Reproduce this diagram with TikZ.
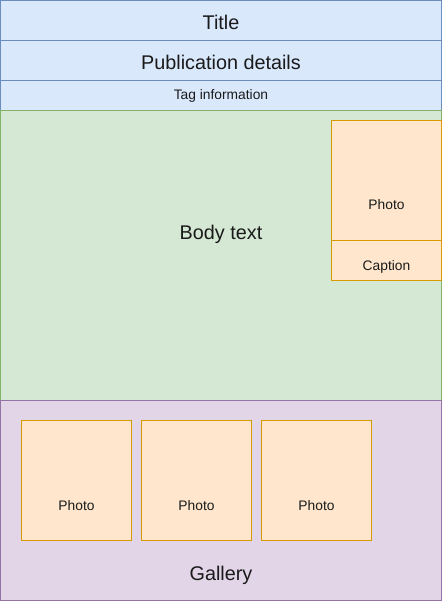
\documentclass[tikz,border=0pt]{standalone}
\usepackage{fontspec}
\setmainfont{Liberation Sans}
\definecolor{bfill}{HTML}{DAE8FC}\definecolor{bline}{HTML}{6C8EBF}
\definecolor{gfill}{HTML}{D5E8D4}\definecolor{gline}{HTML}{82B366}
\definecolor{pfill}{HTML}{E1D5E7}\definecolor{pline}{HTML}{9673A6}
\definecolor{ofill}{HTML}{FFE6CC}\definecolor{oline}{HTML}{D79B00}
\definecolor{txt}{HTML}{1A1A1A}
\begin{document}
\begin{tikzpicture}[x=1pt,y=-1pt,
  box/.style={rectangle,inner sep=0pt,outer sep=0pt,line width=1pt,anchor=north west},
  bluebox/.style={box,fill=bfill,draw=bline,minimum width=441pt},
  greenbox/.style={box,fill=gfill,draw=gline,minimum width=441pt},
  purplebox/.style={box,fill=pfill,draw=pline,minimum width=441pt},
  photobox/.style={box,fill=ofill,draw=oline,minimum width=110pt},
  bigtxt/.style={inner sep=0pt,anchor=base,text=txt,font=\fontsize{19.8}{23}\selectfont},
  smalltxt/.style={inner sep=0pt,anchor=base,text=txt,font=\fontsize{13.8}{16}\selectfont}]
\useasboundingbox (0,0) rectangle (442,601);
% header
\node[bluebox,minimum height=40pt] (title) at (0.5,0.5) {};
\node[bluebox,minimum height=40pt] (pub) at (0.5,40.5) {};
\node[bluebox,minimum height=30pt] (tag) at (0.5,80.5) {};
% body
\node[greenbox,minimum height=290pt] (body) at (0.5,110.5) {};
\node[photobox,minimum height=120pt] (photo) at (331.5,120.5) {};
\node[photobox,minimum height=40pt] (caption) at (331.5,240.5) {};
% gallery
\node[purplebox,minimum height=200pt] (gallery) at (0.5,400.5) {};
\node[photobox,minimum height=120pt] (g1) at (21.5,420.5) {};
\node[photobox,minimum height=120pt] (g2) at (141.5,420.5) {};
\node[photobox,minimum height=120pt] (g3) at (261.5,420.5) {};
% texts
\node[bigtxt] (ttitle) at (221,30) {Title};
\node[bigtxt] (tpub) at (221,70) {Publication details};
\node[smalltxt] (ttag) at (221,100) {Tag information};
\node[bigtxt] (tbody) at (221,240) {Body text};
\node[smalltxt] (tphoto) at (386.5,210) {Photo};
\node[smalltxt] (tcap) at (386.5,270) {Caption};
\node[smalltxt] (tg1) at (76.5,510) {Photo};
\node[smalltxt] (tg2) at (196.5,510) {Photo};
\node[smalltxt] (tg3) at (316.5,510) {Photo};
\node[bigtxt] (tgal) at (221,580) {Gallery};
\end{tikzpicture}
\end{document}
